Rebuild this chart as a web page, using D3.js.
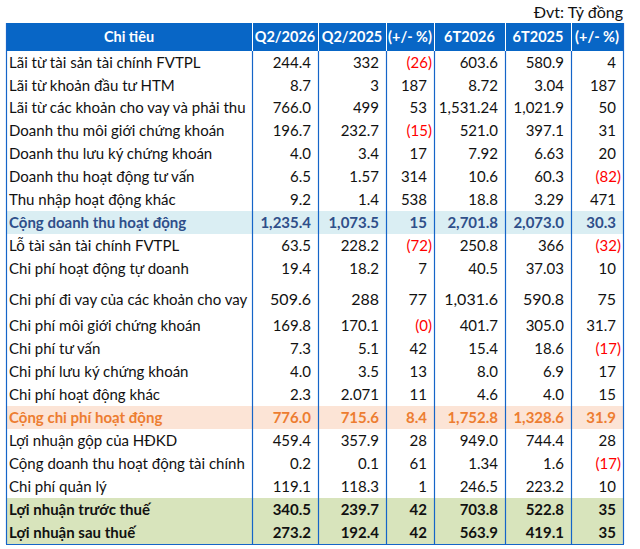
<!DOCTYPE html>
<html><head><meta charset="utf-8">
<script src="https://cdn.jsdelivr.net/npm/d3@7"></script>
<style>body{margin:0;background:#fff}svg{display:block}</style>
</head><body>
<svg id="c" width="640" height="549"></svg>
<script>
const headers = ["Chi tiêu","Q2/2026","Q2/2025","(+/- %)","6T2026","6T2025","(+/- %)"];
const labels = [
"Lãi từ tài sản tài chính FVTPL","Lãi từ khoản đầu tư HTM","Lãi từ các khoản cho vay và phải thu",
"Doanh thu môi giới chứng khoán","Doanh thu lưu ký chứng khoán","Doanh thu hoạt động tư vấn",
"Thu nhập hoạt động khác","Cộng doanh thu hoạt động","Lỗ tài sản tài chính FVTPL",
"Chi phí hoạt động tự doanh","Chi phí đi vay của các khoản cho vay","Chi phí môi giới chứng khoán",
"Chi phí tư vấn","Chi phí lưu ký chứng khoán","Chi phí hoạt động khác","Cộng chi phí hoạt động",
"Lợi nhuận gộp của HĐKD","Cộng doanh thu hoạt động tài chính","Chi phí quản lý",
"Lợi nhuận trước thuế","Lợi nhuận sau thuế"];
const q2_2026 = ["244.4","8.7","766.0","196.7","4.0","6.5","9.2","1,235.4","63.5","19.4","509.6","169.8","7.3","4.0","2.3","776.0","459.4","0.2","119.1","340.5","273.2"];
const q2_2025 = ["332","3","499","232.7","3.4","1.57","1.4","1,073.5","228.2","18.2","288","170.1","5.1","3.5","2.071","715.6","357.9","0.1","118.3","239.7","192.4"];
const chgQ = ["(26)","187","53","(15)","17","314","538","15","(72)","7","77","(0)","42","13","11","8.4","28","61","1","42","42"];
const h1_2026 = ["603.6","8.72","1,531.24","521.0","7.92","10.6","18.8","2,701.8","250.8","40.5","1,031.6","401.7","15.4","8.0","4.6","1,752.8","949.0","1.34","246.5","703.8","563.9"];
const h1_2025 = ["580.9","3.04","1,021.9","397.1","6.63","60.3","3.29","2,073.0","366","37.03","590.8","305.0","18.6","6.9","4.0","1,328.6","744.4","1.6","223.2","522.8","419.1"];
const chgH = ["4","187","50","31","20","(82)","471","30.3","(32)","10","75","31.7","(17)","17","15","31.9","28","(17)","10","35","35"];
const rowKind = ["n","n","n","n","n","n","n","blue","n","n","n","n","n","n","n","orange","n","n","n","green","green"];
const unit = "Đvt: Tỷ đồng";

const columns = [labels,q2_2026,q2_2025,chgQ,h1_2026,h1_2025,chgH];

// layout
const colEdges = [6,252,318,386,434,505,571,623];
const headTop = 23, headBottom = 51;
const rowH = [23,23,22,23,23,23,23,23,23,23,31,26,23,23,23,23,23,23,23,23,23];
const rowTops = [];
rowH.reduce((acc,h)=>{rowTops.push(acc);return acc+h;}, headBottom);
const tableBottom = headBottom + d3.sum(rowH);

const xL = d3.scaleOrdinal().domain(d3.range(7)).range(colEdges.slice(0,7));
const xR = d3.scaleOrdinal().domain(d3.range(7)).range(colEdges.slice(1));
const yT = d3.scaleOrdinal().domain(d3.range(rowH.length)).range(rowTops);
const yH = d3.scaleOrdinal().domain(d3.range(rowH.length)).range(rowH);

const FONT = "Lato, 'Liberation Sans', sans-serif";
const svg = d3.select("#c");

const bgColor = {n:null, blue:"#DAEEF3", orange:"#FCE4D6", green:"#D8E4BC"};
const txtColor = {n:"#111", blue:"#2F4F8A", orange:"#ED7D31", green:"#111"};

// unit text
svg.append("text").attr("x",623).attr("y",18).attr("text-anchor","end")
  .attr("font-family",FONT).attr("font-size",16).attr("fill","#111").text(unit);

// header
svg.append("rect").attr("x",colEdges[0]).attr("y",headTop).attr("width",colEdges[7]-colEdges[0])
  .attr("height",headBottom-headTop).attr("fill","#0866C6");
svg.selectAll("text.h").data(headers).join("text").attr("class","h")
  .attr("x",(d,i)=>(xL(i)+xR(i))/2).attr("y",headTop+19)
  .attr("text-anchor","middle").attr("font-family",FONT).attr("font-weight","bold")
  .attr("font-size",14.5).attr("fill","#fff").text(d=>d);

// row backgrounds
svg.selectAll("rect.bg").data(rowKind.map((k,i)=>({k,i})).filter(d=>bgColor[d.k])).join("rect")
  .attr("class","bg").attr("x",colEdges[0]).attr("y",d=>yT(d.i))
  .attr("width",colEdges[7]-colEdges[0]).attr("height",d=>yH(d.i)).attr("fill",d=>bgColor[d.k]);

// cells
const cells = [];
columns.forEach((col,ci)=>col.forEach((v,ri)=>cells.push({ci,ri,v})));
svg.selectAll("text.cell").data(cells).join("text").attr("class","cell")
  .attr("x",d=>{
    if(d.ci===0) return xL(0)+3;
    const neg = d.v.startsWith("(");
    return xR(d.ci) - (neg?2:7);
  })
  .attr("y",d=>yT(d.ri)+yH(d.ri)-6)
  .attr("text-anchor",d=>d.ci===0?"start":"end")
  .attr("font-family",FONT)
  .attr("font-size",d=>d.ri===10 && d.ci>0 ? 16 : 15)
  .attr("font-weight",d=>rowKind[d.ri]==="n"?"normal":"bold")
  .attr("fill",d=>{
    if(d.ci>0 && d.v.startsWith("(")) return "#FF0000";
    return txtColor[rowKind[d.ri]];
  })
  .text(d=>d.v);

// header separators (white)
svg.selectAll("line.hs").data(colEdges.slice(1,7)).join("line").attr("class","hs")
  .attr("x1",d=>d+0.5).attr("x2",d=>d+0.5).attr("y1",headTop).attr("y2",headBottom)
  .attr("stroke","#fff").attr("stroke-width",1);
// body vertical borders
svg.selectAll("line.vs").data(colEdges).join("line").attr("class","vs")
  .attr("x1",d=>d+0.5).attr("x2",d=>d+0.5).attr("y1",(d,i)=>(i===0||i===7)?headTop:headBottom).attr("y2",tableBottom)
  .attr("stroke","#1565C8").attr("stroke-width",1.2);
svg.append("line").attr("x1",colEdges[0]).attr("x2",colEdges[7]+1).attr("y1",tableBottom+0.5).attr("y2",tableBottom+0.5)
  .attr("stroke","#1565C8").attr("stroke-width",1.2);
</script>
</body></html>
